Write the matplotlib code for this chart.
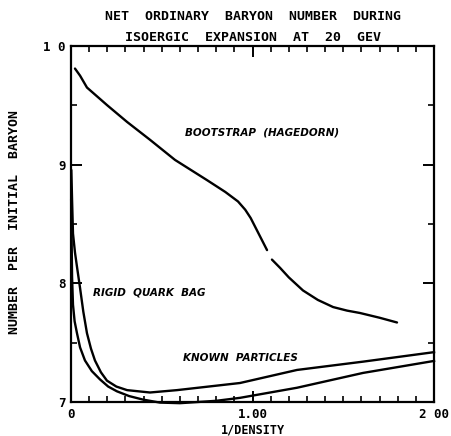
import numpy as np
import matplotlib
matplotlib.use("Agg")
import matplotlib.pyplot as plt
from matplotlib.ticker import MultipleLocator

# --- data ---
boot_x1 = [0.022, 0.050, 0.088, 0.200, 0.309, 0.435, 0.573, 0.749, 0.850,
           0.920, 0.960, 0.990, 1.030, 1.080]
boot_y1 = [0.981, 0.975, 0.965, 0.950, 0.936, 0.921, 0.904, 0.887, 0.877,
           0.869, 0.862, 0.855, 0.843, 0.828]
boot_x2 = [1.107, 1.152, 1.200, 1.278, 1.360, 1.444, 1.521, 1.592, 1.700, 1.796]
boot_y2 = [0.820, 0.813, 0.805, 0.794, 0.786, 0.780, 0.777, 0.775, 0.771, 0.767]

known_up_x = [0.002, 0.006, 0.011, 0.022, 0.033, 0.050, 0.068, 0.088, 0.110,
              0.132, 0.165, 0.198, 0.250, 0.309, 0.435, 0.584, 0.931, 1.245,
              1.609, 2.000]
known_up_y = [0.895, 0.870, 0.842, 0.826, 0.814, 0.796, 0.776, 0.758, 0.745,
              0.735, 0.725, 0.718, 0.713, 0.710, 0.708, 0.710, 0.716, 0.727,
              0.734, 0.742]
known_lo_x = [0.001, 0.004, 0.006, 0.011, 0.020, 0.033, 0.050, 0.077, 0.115,
              0.160, 0.205, 0.253, 0.320, 0.397, 0.490, 0.600, 0.700, 0.800,
              0.931, 1.245, 1.609, 2.000]
known_lo_y = [0.870, 0.830, 0.805, 0.782, 0.768, 0.758, 0.746, 0.735, 0.726,
              0.719, 0.713, 0.709, 0.705, 0.702, 0.6995, 0.699, 0.700, 0.701,
              0.7035, 0.712, 0.7245, 0.7346]

ytick_vals = [0.7, 0.8, 0.9, 1.0]
ytick_text = ["7", "8", "9", "1 0"]
xtick_vals = [0.0, 1.0, 2.0]
xtick_text = ["0", "1.00", "2 00"]

fig = plt.figure(figsize=(4.51, 4.36), dpi=100)
ax = fig.add_axes([0.1574, 0.078, 0.805, 0.8165])

lw = 1.7
ax.plot(boot_x1, boot_y1, color="black", lw=lw, solid_capstyle="round",
        solid_joinstyle="round")
ax.plot(boot_x2, boot_y2, color="black", lw=lw, solid_capstyle="round",
        solid_joinstyle="round")
ax.plot(known_up_x, known_up_y, color="black", lw=lw, clip_on=False,
        solid_joinstyle="round")
ax.plot(known_lo_x, known_lo_y, color="black", lw=lw, clip_on=False,
        solid_joinstyle="round")

ax.set_xlim(0, 2.0)
ax.set_ylim(0.7, 1.0)

for s in ax.spines.values():
    s.set_linewidth(1.6)

ax.set_xticks(xtick_vals)
ax.set_xticklabels(xtick_text, fontsize=9, fontweight="bold", family="DejaVu Sans Mono")
ax.set_yticks(ytick_vals)
ax.set_yticklabels(ytick_text, fontsize=9, fontweight="bold", family="DejaVu Sans Mono")
ax.xaxis.set_minor_locator(MultipleLocator(0.1))
ax.yaxis.set_minor_locator(MultipleLocator(0.05))
ax.tick_params(which="major", direction="in", length=8, width=1.4,
               top=True, right=True, pad=4)
ax.tick_params(which="minor", direction="in", length=4, width=1.2,
               top=True, right=True)

lab = dict(fontsize=7.5, fontweight="bold", fontstyle="italic", family="DejaVu Sans")
ax.text(1.05, 0.927, "BOOTSTRAP  (HAGEDORN)", ha="center", va="center", **lab)
ax.text(0.12, 0.792, "RIGID  QUARK  BAG", ha="left", va="center", **lab)
ax.text(0.617, 0.737, "KNOWN  PARTICLES", ha="left", va="center", **lab)

mono = dict(family="DejaVu Sans Mono", fontweight="bold", fontsize=8.5)
title = dict(family="DejaVu Sans Mono", fontweight="bold", fontsize=9.5)
fig.text(0.561, 0.963, "NET  ORDINARY  BARYON  NUMBER  DURING", ha="center", va="center", **title)
fig.text(0.561, 0.913, "ISOERGIC  EXPANSION  AT  20  GEV", ha="center", va="center", **title)
ax.set_xlabel("1/DENSITY", labelpad=2, **mono)
fig.text(0.033, 0.49, "NUMBER  PER  INITIAL  BARYON", rotation=90,
         ha="center", va="center", **title)

fig.savefig("out.png", dpi=100)
